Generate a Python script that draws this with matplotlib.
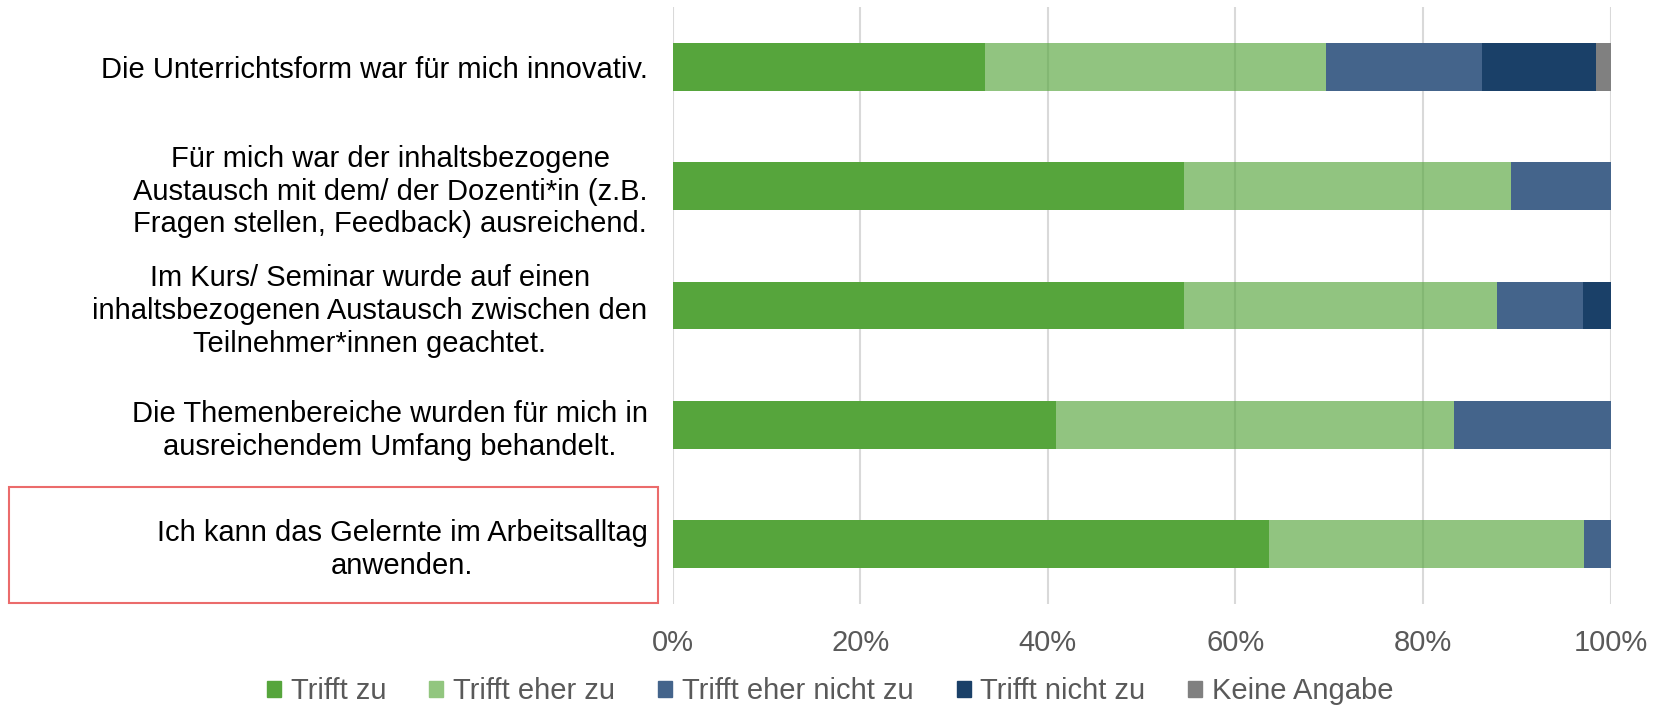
import matplotlib.pyplot as plt
import numpy as np
from matplotlib.patches import Rectangle

plt.rcParams['font.family'] = ['Liberation Sans', 'DejaVu Sans']

# statements (top to bottom)
statements = [
    "Die Unterrichtsform war für mich innovativ.",
    "Für mich war der inhaltsbezogene\nAustausch mit dem/ der Dozenti*in (z.B.\nFragen stellen, Feedback) ausreichend.",
    "Im Kurs/ Seminar wurde auf einen\ninhaltsbezogenen Austausch zwischen den\nTeilnehmer*innen geachtet.",
    "Die Themenbereiche wurden für mich in\nausreichendem Umfang behandelt.",
    "Ich kann das Gelernte im Arbeitsalltag\nanwenden.",
]
answers = ["Trifft zu", "Trifft eher zu", "Trifft eher nicht zu", "Trifft nicht zu", "Keine Angabe"]

# shares in percent, one list per answer
trifft_zu = [33.3, 54.5, 54.5, 40.9, 63.6]
eher_zu = [36.4, 34.9, 33.4, 42.4, 33.5]
eher_nicht = [16.6, 10.6, 9.1, 16.7, 2.9]
nicht_zu = [12.1, 0.0, 3.0, 0.0, 0.0]
keine_angabe = [1.6, 0.0, 0.0, 0.0, 0.0]

series = [trifft_zu, eher_zu, eher_nicht, nicht_zu, keine_angabe]
colors = ['#56A53C', '#56A53C', '#44648B', '#1A4068', '#808080']
alphas = [1.0, 0.65, 1.0, 1.0, 1.0]   # light green is see-through, grid shows
legend_colors = ['#56A53C', '#92C67F', '#44648B', '#1A4068', '#808080']

fig = plt.figure(figsize=(16.59, 7.08), dpi=100)
ax = fig.add_axes([0.4054, 0.147, 0.5655, 0.843])

y = np.arange(len(statements))
left = np.zeros(len(statements))
for vals, col, a, lab in zip(series, colors, alphas, answers):
    ax.barh(y, vals, left=left, height=0.4, color=col, alpha=a, label=lab,
            linewidth=0, zorder=2)
    left += np.array(vals)

ax.set_ylim(len(statements) - 0.5, -0.5)
ax.set_xlim(0, 100)
ax.set_xticks(np.arange(0, 101, 20))
ax.set_xticklabels([f"{v}%" for v in range(0, 101, 20)])
ax.set_yticks(y)
ax.set_yticklabels(statements, multialignment='center', linespacing=1.22)
ax.tick_params(axis='x', length=0, pad=18, labelsize=21, labelcolor='#595959')
ax.tick_params(axis='y', length=0, pad=18, labelsize=21, labelcolor='#000000')
ax.xaxis.grid(True, color='#D9D9D9', linewidth=1.5, zorder=0)
ax.set_axisbelow(True)
for s in ax.spines.values():
    s.set_visible(False)

handles = [Rectangle((0, 0), 1, 1, color=c) for c in legend_colors]
fig.legend(handles, answers, loc='lower center', bbox_to_anchor=(0.5006, -0.033), ncol=5,
           frameon=False, fontsize=21, labelcolor='#595959', handlelength=0.48,
           handleheight=0.48, handletextpad=0.34, columnspacing=1.47)

# red highlight box around the last statement
fig.patches.append(Rectangle((8.5 / 1659, 1 - 603 / 708), (658 - 8.5) / 1659, (603 - 487) / 708,
                             transform=fig.transFigure, fill=False,
                             edgecolor='#EB6B6B', linewidth=1.5))

fig.savefig('out.png', dpi=100)
